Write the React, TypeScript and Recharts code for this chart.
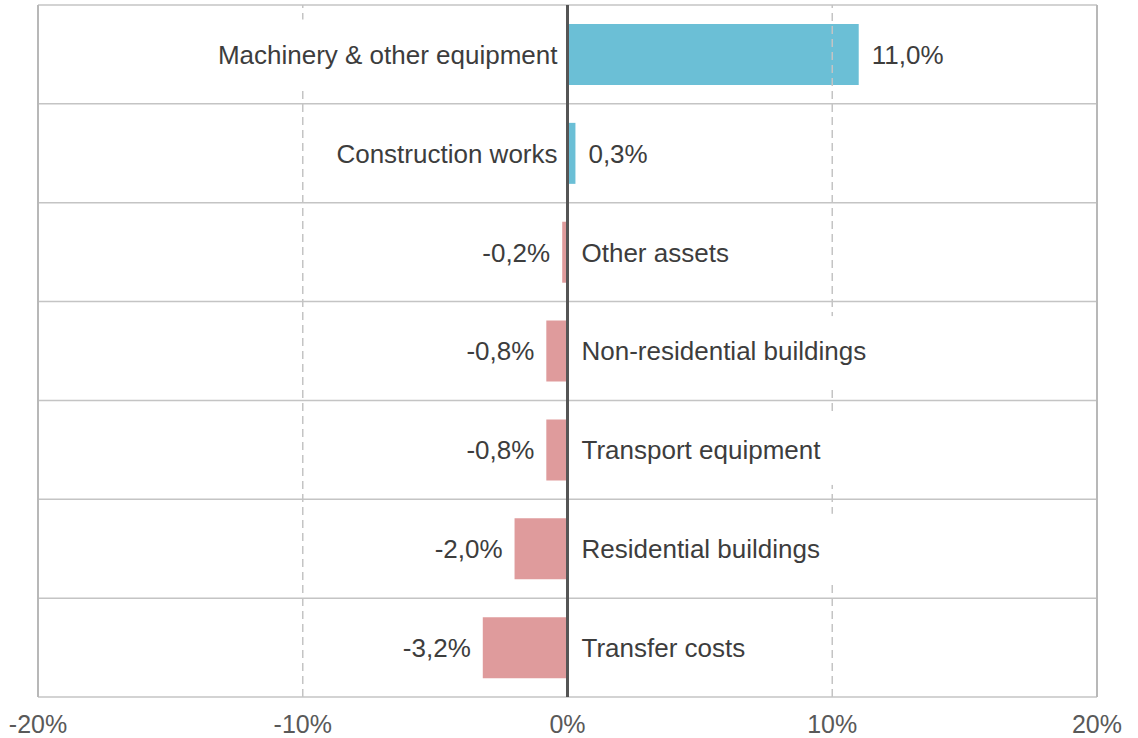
import { BarChart, Bar, XAxis, YAxis, CartesianGrid, ReferenceLine, LabelList, Cell } from 'recharts';

const categories = [
    'Machinery & other equipment',
    'Construction works',
    'Other assets',
    'Non-residential buildings',
    'Transport equipment',
    'Residential buildings',
    'Transfer costs'
];
const values = [11.0, 0.3, -0.2, -0.8, -0.8, -2.0, -3.2];
const xTicks = [-20, -10, 0, 10, 20];

const data = categories.map((name, i) => ({ name, value: values[i] }));

const FONT = '"Liberation Sans", Arial, sans-serif';
const FONT_SIZE = 26;
const TEXT = '#3d3d3d';
const POS = '#6BBFD6';
const NEG = '#DF9B9C';
const GRID = '#c4c4c4';

let ctx: CanvasRenderingContext2D | null = null;
function textWidth(s: string) {
    if (!ctx) ctx = document.createElement('canvas').getContext('2d');
    if (!ctx) return s.length * FONT_SIZE * 0.5;
    ctx.font = `${FONT_SIZE}px ${FONT}`;
    return ctx.measureText(s).width;
}

const fmt = (v: number) => `${v.toFixed(1).replace('.', ',')}%`;

function bounds(props: any) {
    const x = Number(props.x), w = Number(props.width);
    const left = Math.min(x, x + w);
    const right = Math.max(x, x + w);
    const cy = Number(props.y) + Number(props.height) / 2;
    return { left, right, cy };
}

// category name sits on the other side of the zero line, with a white box behind it
function NameLabel(props: any) {
    const { left, right, cy } = bounds(props);
    const v = values[props.index];
    const name = categories[props.index];
    const w = textWidth(name);
    if (v >= 0) {
        const tx = left - 10;
        return (
            <g>
                <rect x={tx - w - 14} y={cy - 35} width={w + 20} height={70} fill="#fff" />
                <text x={tx} y={cy} dy="0.36em" textAnchor="end" fontSize={FONT_SIZE} fontFamily={FONT} fill={TEXT}>{name}</text>
            </g>
        );
    }
    const tx = right + 14;
    return (
        <g>
            <rect x={tx - 6} y={cy - 35} width={w + 20} height={70} fill="#fff" />
            <text x={tx} y={cy} dy="0.36em" textAnchor="start" fontSize={FONT_SIZE} fontFamily={FONT} fill={TEXT}>{name}</text>
        </g>
    );
}

function ValueLabel(props: any) {
    const { left, right, cy } = bounds(props);
    const v = values[props.index];
    const pos = v >= 0;
    return (
        <text
            x={pos ? right + 13 : left - 12}
            y={cy}
            dy="0.36em"
            textAnchor={pos ? 'start' : 'end'}
            fontSize={FONT_SIZE}
            fontFamily={FONT}
            fill={TEXT}
        >
            {fmt(v)}
        </text>
    );
}

export default function App() {
    return (
        <div style={{ position: 'absolute', left: 0, top: 0, background: '#fff' }}>
            <BarChart
                width={1138}
                height={738}
                data={data}
                layout="vertical"
                margin={{ top: 5, right: 41, bottom: 0, left: 38 }}
                barCategoryGap={0}
            >
                <CartesianGrid
                    vertical={false}
                    stroke={GRID}
                    strokeWidth={1.5}
                    horizontalCoordinatesGenerator={({ offset }: any) =>
                        categories.map((_, i) => offset.top + (i * offset.height) / categories.length).concat(offset.top + offset.height)
                    }
                />
                <XAxis
                    type="number"
                    domain={[-20, 20]}
                    ticks={xTicks}
                    tickFormatter={(v) => `${v}%`}
                    tick={{ fontSize: 25, fill: '#595959', fontFamily: FONT }}
                    tickLine={false}
                    axisLine={false}
                    tickSize={6}
                    tickMargin={12}
                    height={41}
                    interval={0}
                />
                <YAxis type="category" dataKey="name" hide />
                <ReferenceLine x={-10} stroke={GRID} strokeWidth={1.5} strokeDasharray="8 5" />
                <ReferenceLine x={10} stroke={GRID} strokeWidth={1.5} strokeDasharray="8 5" />
                <ReferenceLine x={-20} stroke="#b8b8b8" strokeWidth={2} />
                <ReferenceLine x={20} stroke="#b8b8b8" strokeWidth={2} />
                <Bar dataKey="value" barSize={61} isAnimationActive={false}>
                    {data.map((d) => (
                        <Cell key={d.name} fill={d.value >= 0 ? POS : NEG} />
                    ))}
                    <LabelList dataKey="name" content={NameLabel} />
                    <LabelList dataKey="value" content={ValueLabel} />
                </Bar>
                <ReferenceLine x={0} stroke="#555" strokeWidth={3} />
            </BarChart>
        </div>
    );
}
